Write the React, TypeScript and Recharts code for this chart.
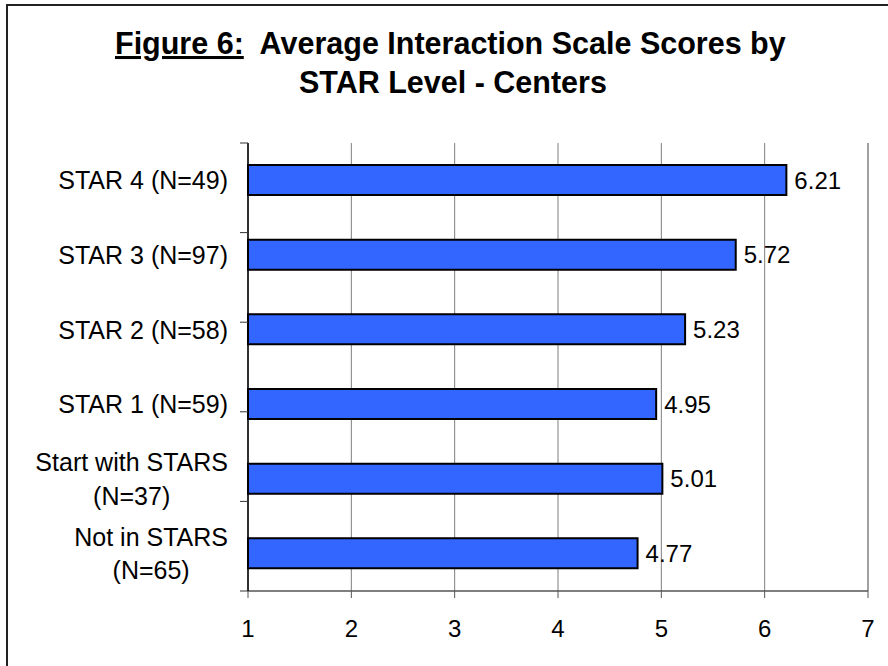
import { BarChart, Bar, XAxis, YAxis, CartesianGrid, LabelList, ReferenceLine } from "recharts";

const levels = [
  "STAR 4 (N=49)",
  "STAR 3 (N=97)",
  "STAR 2 (N=58)",
  "STAR 1 (N=59)",
  "Start with STARS\n(N=37)",
  "Not in STARS\n(N=65)",
];
const scores = [6.21, 5.72, 5.23, 4.95, 5.01, 4.77];
const xTicks = [1, 2, 3, 4, 5, 6, 7];
const bandEdges = [0, 1, 2, 3, 4, 5, 6];

const data = levels.map((level, i) => ({ level, score: scores[i] }));

const FONT = "'Liberation Sans', Arial, Helvetica, sans-serif";
const CAT_SIZE = 25;

let ctx: CanvasRenderingContext2D | null = null;
function textWidth(s: string) {
  if (!ctx) ctx = document.createElement("canvas").getContext("2d");
  if (!ctx) return s.length * 12;
  ctx.font = `${CAT_SIZE}px ${FONT}`;
  return ctx.measureText(s).width;
}

// category labels, right aligned, wrapped lines centred on each other
function LevelTick({ x, y, payload }: any) {
  const lines = String(payload.value).split("\n");
  if (lines.length === 1) {
    return (
      <text x={x} y={y + 9} textAnchor="end" fontSize={CAT_SIZE} fontFamily={FONT} fill="#000">
        {lines[0]}
      </text>
    );
  }
  const w = Math.max(...lines.map(textWidth));
  const cx = x - w / 2;
  return (
    <g>
      {lines.map((l, i) => (
        <text key={i} x={cx} y={y + 9 + (i - (lines.length - 1) / 2) * 33.5} textAnchor="middle" fontSize={CAT_SIZE} fontFamily={FONT} fill="#000">
          {l}
        </text>
      ))}
    </g>
  );
}

const NoLabel = () => <g />;

export default function App() {
  return (
    <div style={{ position: "absolute", left: 0, top: 0, width: 888, height: 666, background: "#fff" }}>
      <BarChart
        width={888}
        height={666}
        data={data}
        layout="vertical"
        margin={{ top: 143, right: 20, bottom: 35, left: 0 }}
      >
        <CartesianGrid horizontal={false} stroke="#7f7f7f" strokeWidth={1} />
        <XAxis
          type="number"
          dataKey="score"
          domain={[1, 7]}
          ticks={xTicks}
          height={40}
          tickSize={7}
          tickMargin={22}
          axisLine={{ stroke: "#555", strokeWidth: 1.5 }}
          tickLine={{ stroke: "#555" }}
          tick={{ fontSize: 24, fontFamily: FONT, fill: "#000" }}
        />
        <XAxis
          xAxisId="top"
          orientation="top"
          type="number"
          domain={[1, 7]}
          height={0}
          tick={false}
          tickLine={false}
          axisLine={{ stroke: "#a0a0a0", strokeWidth: 2 }}
        />
        <YAxis
          yAxisId="a_edges"
          type="number"
          domain={[0, 6]}
          ticks={bandEdges}
          width={1}
          tick={<NoLabel />}
          tickSize={8}
          tickLine={{ stroke: "#333" }}
          axisLine={{ stroke: "#000", strokeWidth: 1.5 }}
        />
        <YAxis
          yAxisId="b_cat"
          type="category"
          dataKey="level"
          width={247}
          axisLine={false}
          tickLine={false}
          tickSize={0}
          tickMargin={19}
          interval={0}
          tick={<LevelTick />}
        />
        <ReferenceLine x={7} stroke="#a0a0a0" strokeWidth={2} />
        <Bar
          yAxisId="b_cat"
          dataKey="score"
          barSize={30}
          fill="#3366ff"
          stroke="#000"
          strokeWidth={2}
          isAnimationActive={false}
        >
          <LabelList
            dataKey="score"
            position="right"
            offset={8}
            formatter={(v: any) => Number(v).toFixed(2)}
            style={{ fontSize: 24, fontFamily: FONT, fill: "#000" }}
          />
        </Bar>
      </BarChart>
      <svg
        width={888}
        height={666}
        style={{ position: "absolute", left: 0, top: 0, pointerEvents: "none" }}
      >
        <rect x={7} y={5} width={900} height={700} fill="none" stroke="#222" strokeWidth={2} />
        <text x={115} y={54} fontSize={30.5} fontWeight="bold" fontFamily={FONT} fill="#000" style={{ whiteSpace: "pre" }}>
          <tspan textDecoration="underline">Figure 6:</tspan>
          <tspan>{"  Average Interaction Scale Scores by"}</tspan>
        </text>
        <text x={299} y={93} fontSize={30.5} fontWeight="bold" fontFamily={FONT} fill="#000">
          STAR Level - Centers
        </text>
      </svg>
    </div>
  );
}
